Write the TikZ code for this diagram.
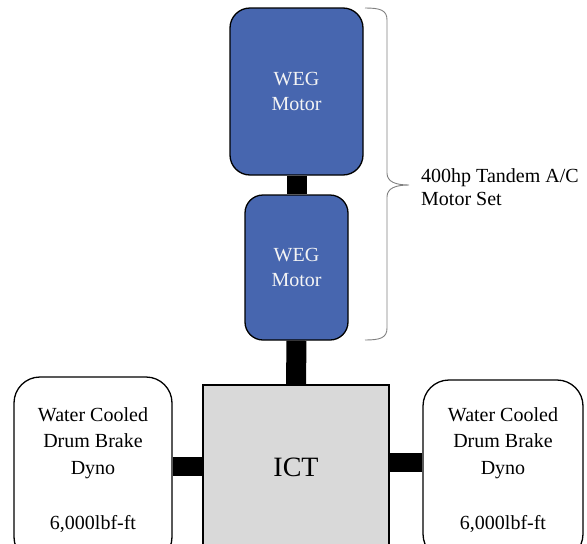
\documentclass[tikz,border=0pt]{standalone}
\usepackage{fontspec}
\setmainfont{Liberation Serif}
\usepackage{tikz}
\usetikzlibrary{calc}
\definecolor{INK}{HTML}{000000}
\definecolor{MOTOR}{HTML}{4766AF}
\definecolor{ICTG}{HTML}{D9D9D9}
\definecolor{BRACE}{HTML}{808080}
\definecolor{PALE}{HTML}{F4F4F4}

\begin{document}
\begin{tikzpicture}[x=1pt,y=-1pt]
\tikzset{motor/.style={draw=INK,line width=1.3pt,fill=MOTOR,rounded corners=20pt,text=PALE,
 align=center,font=\fontsize{20}{25.5}\selectfont,inner sep=0pt},
 dyno/.style={draw=INK,line width=1.3pt,fill=white,rounded corners=26pt,align=center,
 font=\fontsize{20}{26.5}\selectfont,inner sep=0pt},
 box/.style={draw=INK,line width=1.3pt,fill=ICTG,inner sep=0pt},
 shaft/.style={line width=20pt,INK},
 brc/.style={BRACE,line width=0.9pt}}
\clip (0,0) rectangle (587,544);
\node[motor,minimum width=133pt,minimum height=167pt] (m1) at (296.5,91.5) {WEG\\Motor};
\node[motor,minimum width=103pt,minimum height=145pt,rounded corners=18pt] (m2) at (296.5,267.5) {WEG\\Motor};
\node[box,minimum width=186pt,minimum height=164pt,font=\fontsize{28}{32}\selectfont] (ict) at (296,467) {ICT};
\node[dyno,minimum width=158pt,minimum height=186pt] (dl) at (93,470) {Water Cooled\\Drum Brake\\Dyno\\[29pt]6,000lbf-ft};
\node[dyno,minimum width=160pt,minimum height=180pt] (dr) at (503,470) {Water Cooled\\Drum Brake\\Dyno\\[29pt]6,000lbf-ft};
% shafts
\draw[shaft] (m1.south) -- (m2.north);
\draw[shaft] (m2.south) -- (ict.north);
\draw[shaft,line width=19pt] ($(dl.east)+(0,-3.5)$) coordinate (sl) -- (sl -| ict.west);
\draw[shaft,line width=19pt] ($(dr.west)+(0,-7.5)$) coordinate (sr) -- (sr -| ict.east);
% brace round the motor set
\draw[brc] (365,8) .. controls (380,8) and (387,10) .. (387,20) -- (387,173)
 .. controls (387,182) and (396,185) .. (409,185)
 .. controls (396,185) and (387,188) .. (387,197) -- (387,328)
 .. controls (387,338) and (380,340) .. (365,340);
\node[anchor=west,align=left,font=\fontsize{20}{23.5}\selectfont,inner sep=0pt] (lbl) at (421,187) {400hp Tandem A/C\\Motor Set};
\end{tikzpicture}
\end{document}
